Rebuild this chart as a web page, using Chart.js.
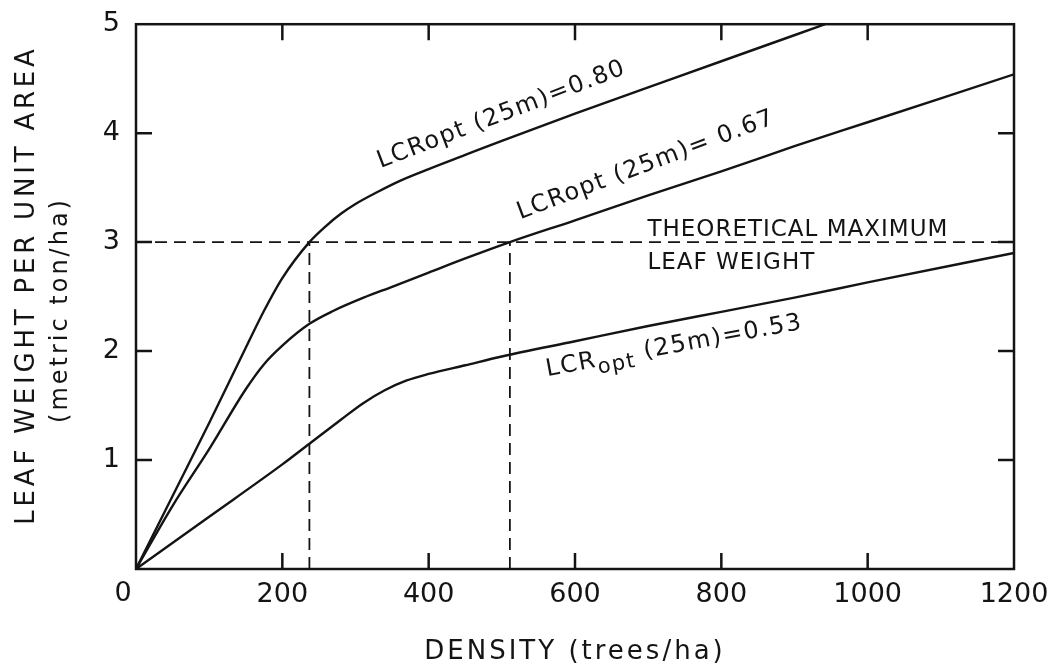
<!DOCTYPE html>
<html>
<head>
<meta charset="utf-8">
<script src="https://cdn.jsdelivr.net/npm/chart.js@4.4.1/dist/chart.umd.min.js"></script>
<style>
  html, body { margin: 0; padding: 0; background: #fff; }
</style>
</head>
<body>
<canvas id="leafChart" width="1057" height="666"></canvas>
<script>
// leaf weight vs stand density, one curve per optimum live crown ratio
const density80 = [0, 50, 100, 150, 175, 200, 237, 260, 280, 300, 330, 360, 400, 450, 500, 600, 700, 800, 942];
const weight80  = [0, 0.67, 1.34, 2.03, 2.37, 2.67, 3.0, 3.15, 3.26, 3.35, 3.46, 3.56, 3.67, 3.80, 3.93, 4.18, 4.42, 4.66, 5.0];

const density67 = [0, 50, 100, 150, 175, 200, 237, 270, 311, 350, 400, 450, 511, 600, 700, 800, 900, 1000, 1200];
const weight67  = [0, 0.58, 1.10, 1.65, 1.88, 2.05, 2.25, 2.37, 2.49, 2.59, 2.72, 2.85, 3.0, 3.2, 3.43, 3.65, 3.88, 4.1, 4.54];

const density53 = [0, 100, 200, 237, 280, 310, 340, 370, 400, 450, 500, 600, 700, 800, 900, 1000, 1200];
const weight53  = [0, 0.48, 0.96, 1.15, 1.37, 1.52, 1.64, 1.73, 1.79, 1.87, 1.95, 2.09, 2.23, 2.36, 2.49, 2.63, 2.9];

// theoretical maximum and the densities where the curves reach it
const maxLeafWeight = 3;
const crossDensities = [237, 511];

const xTicks = [0, 200, 400, 600, 800, 1000, 1200];
const yTicks = [0, 1, 2, 3, 4, 5];

const INK = '#141414';
const FONT = '"DejaVu Sans", sans-serif';

const toPoints = (xs, ys) => xs.map((x, i) => ({ x: x, y: ys[i] }));

function curve(xs, ys) {
    return {
        data: toPoints(xs, ys),
        borderColor: INK,
        borderWidth: 2.4,
        pointRadius: 0,
        fill: false,
        cubicInterpolationMode: 'monotone'
    };
}

function dashed(points) {
    return {
        data: points,
        borderColor: INK,
        borderWidth: 1.8,
        borderDash: [12, 7],
        pointRadius: 0,
        fill: false
    };
}

const datasets = [
    curve(density80, weight80),
    curve(density67, weight67),
    curve(density53, weight53),
    dashed([{ x: 0, y: maxLeafWeight }, { x: 1200, y: maxLeafWeight }])
];
crossDensities.forEach(d => {
    datasets.push(dashed([{ x: d, y: 0 }, { x: d, y: maxLeafWeight }]));
});

// curve labels, anchored in data units (left end of the baseline)
const curveLabels = [
    { x: 334, y: 3.68, angle: -21, parts: [['LCRopt (25m)=0.80', 0]] },
    { x: 525, y: 3.21, angle: -20.6, parts: [['LCRopt (25m)= 0.67', 0]] },
    { x: 562, y: 1.77, angle: -10.5, parts: [['LCR', 0], ['opt', 7], [' (25m)=0.53', 0]] }
];

function spacedText(ctx, text, x, y, size, spacing) {
    ctx.font = size + 'px ' + FONT;
    ctx.letterSpacing = spacing + 'px';
    ctx.fillText(text, x, y);
    return ctx.measureText(text).width;
}

const frameAndText = {
    id: 'frameAndText',
    afterDraw(chart) {
        const ctx = chart.ctx;
        const area = chart.chartArea;
        const xs = chart.scales.x;
        const ys = chart.scales.y;

        ctx.save();
        ctx.strokeStyle = INK;
        ctx.fillStyle = INK;
        ctx.lineWidth = 2.5;
        ctx.strokeRect(area.left, area.top, area.right - area.left, area.bottom - area.top);

        // inward tick marks on all four sides
        const len = 16;
        ctx.beginPath();
        xTicks.slice(1, -1).forEach(v => {
            const px = xs.getPixelForValue(v);
            ctx.moveTo(px, area.bottom); ctx.lineTo(px, area.bottom - len);
            ctx.moveTo(px, area.top); ctx.lineTo(px, area.top + len);
        });
        yTicks.slice(1, -1).forEach(v => {
            const py = ys.getPixelForValue(v);
            ctx.moveTo(area.left, py); ctx.lineTo(area.left + len, py);
            ctx.moveTo(area.right, py); ctx.lineTo(area.right - len, py);
        });
        ctx.stroke();

        // shared origin label sits just left of the corner
        ctx.textAlign = 'center';
        ctx.textBaseline = 'middle';
        spacedText(ctx, '0', area.left - 13, xs.top + 25, 27, 0);

        // curve labels
        ctx.textAlign = 'left';
        ctx.textBaseline = 'alphabetic';
        curveLabels.forEach(lab => {
            ctx.save();
            ctx.translate(xs.getPixelForValue(lab.x), ys.getPixelForValue(lab.y));
            ctx.rotate(lab.angle * Math.PI / 180);
            let cx = 0;
            lab.parts.forEach(([t, drop]) => {
                cx += spacedText(ctx, t, cx, drop, drop ? 21 : 24, 1.5);
            });
            ctx.restore();
        });

        // theoretical maximum note
        const noteX = xs.getPixelForValue(699);
        spacedText(ctx, 'THEORETICAL MAXIMUM', noteX, ys.getPixelForValue(3.06), 23, 1);
        spacedText(ctx, 'LEAF WEIGHT', noteX, ys.getPixelForValue(2.755), 23, 1);

        // axis titles
        ctx.textAlign = 'center';
        ctx.textBaseline = 'middle';
        spacedText(ctx, 'DENSITY (trees/ha)', (area.left + area.right) / 2, 652, 26, 3);

        ctx.save();
        ctx.translate(27, 285);
        ctx.rotate(-Math.PI / 2);
        spacedText(ctx, 'LEAF WEIGHT PER UNIT AREA', 0, 0, 26, 3.8);
        ctx.restore();

        ctx.save();
        ctx.translate(61, 310);
        ctx.rotate(-Math.PI / 2);
        spacedText(ctx, '(metric ton/ha)', 0, 0, 24, 3);
        ctx.restore();

        ctx.restore();
    }
};

new Chart(document.getElementById('leafChart'), {
    type: 'line',
    data: { datasets: datasets },
    options: {
        responsive: false,
        animation: false,
        layout: { padding: { left: 0, right: 43, top: 21, bottom: 0 } },
        plugins: {
            legend: { display: false },
            tooltip: { enabled: false }
        },
        scales: {
            x: {
                type: 'linear',
                min: 0,
                max: 1200,
                afterFit: s => { s.height = 97; },
                afterBuildTicks: s => { s.ticks = xTicks.map(v => ({ value: v })); },
                grid: { display: false },
                border: { display: false },
                ticks: {
                    color: INK,
                    padding: 2,
                    maxRotation: 0,
                    font: { family: FONT, size: 27 },
                    // origin label is drawn by the plugin
                    callback: v => (v === 0 ? '' : String(v))
                }
            },
            y: {
                type: 'linear',
                min: 0,
                max: 5,
                afterFit: s => { s.width = 136; },
                afterBuildTicks: s => { s.ticks = yTicks.map(v => ({ value: v })); },
                grid: { display: false },
                border: { display: false },
                ticks: {
                    color: INK,
                    padding: 8,
                    font: { family: FONT, size: 27 },
                    callback: v => (v === 0 ? '' : String(v))
                }
            }
        }
    },
    plugins: [frameAndText]
});
</script>
</body>
</html>
